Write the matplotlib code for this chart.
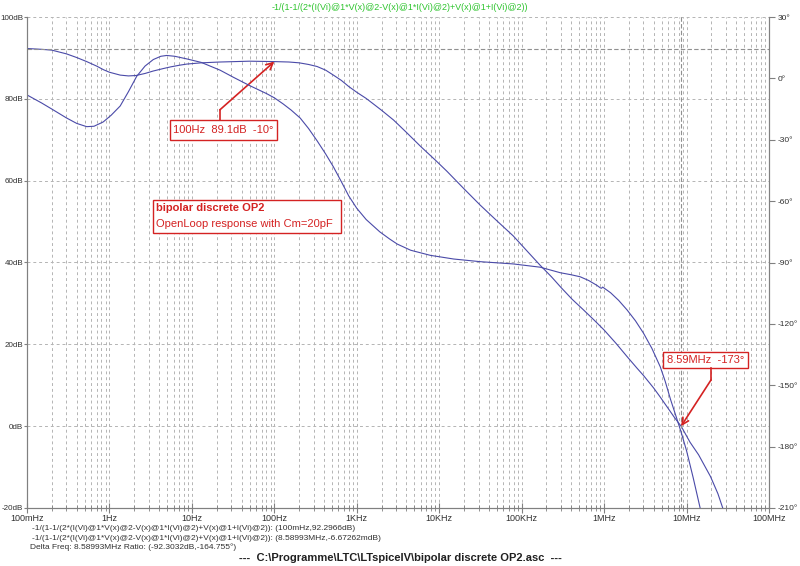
import numpy as np
import matplotlib
matplotlib.use('Agg')
from matplotlib import pyplot as plt
from matplotlib.patches import Rectangle
from matplotlib.ticker import FixedLocator, LogLocator, NullFormatter

plt.rcParams['font.family'] = ['Liberation Sans', 'DejaVu Sans']

# Betrag (dB) über Frequenz (Hz)
mag_freq = [0.1, 0.15, 0.2, 0.3, 0.4, 0.53, 0.7, 0.85, 1.0, 1.35, 1.7, 2.1, 2.7, 3.4, 4.5,
            5.5, 7, 8.7, 13, 22, 50, 100, 150, 200, 260, 330, 420, 520, 650, 800, 1000,
            1300, 1650, 2000, 2800, 4000, 6000, 9000, 12400, 20000, 31500, 50000, 79000,
            120000, 168000, 230000, 300000, 410000, 550000, 750000, 1e6, 1.4e6, 1.9e6,
            2.5e6, 3e6, 4e6, 4.8e6, 6e6, 7.2e6, 8.59e6, 1.1e7, 1.4e7, 1.95e7, 2.4e7, 2.8e7]
mag_db = [92.3, 92.1, 91.9, 91.0, 90.1, 89.1, 88.0, 87.1, 86.5, 85.8, 85.6, 85.7, 86.2, 86.8, 87.4,
          87.8, 88.2, 88.5, 88.8, 89.0, 89.2, 89.1, 89.0, 88.8, 88.4, 87.9, 87.0, 85.8, 84.5, 83.0, 81.6,
          80.1, 78.5, 77.2, 74.8, 71.8, 68.3, 65.0, 62.3, 58.0, 54.0, 50.2, 46.5,
          42.5, 39.3, 36.5, 33.9, 31.0, 28.6, 26.0, 23.5, 20.2, 17.0,
          14.2, 12.4, 9.3, 7.1, 4.3, 2.0, 0.0, -3.9, -7.0, -12.3, -16.5, -20.5]

# Phase (Grad) über Frequenz (Hz)
phase_freq = [0.1, 0.15, 0.2, 0.3, 0.4, 0.53, 0.65, 0.84, 1.05, 1.35, 1.7, 2.14, 2.7, 3.4, 4.2,
              4.95, 6.2, 8.7, 13, 22, 32, 50, 81, 100, 128, 160, 206, 260, 330, 420, 520, 650,
              800, 1000, 1300, 1900, 2500, 3100, 4500, 7800, 15000, 31500, 79000, 168000,
              294000, 400000, 514000, 650000, 820000, 900000, 930000, 960000, 1.2e6, 1.5e6,
              1.9e6, 2.4e6, 3e6, 3.8e6, 4.8e6, 5.5e6, 6.4e6, 7.5e6, 8.59e6, 1e7, 1.2e7, 1.5e7]
phase_deg = [-8.1, -12.0, -15.0, -19.3, -22.0, -23.6, -23.4, -21.3, -18.0, -13.5, -6.5, 1.0, 6.0, 9.2, 10.8,
             11.2, 10.8, 9.5, 7.8, 4.0, 0.5, -3.5, -7.5, -9.5, -12.5, -15.5, -19.4, -24.5, -30.5, -37.0, -43.2, -50.5,
             -57.5, -63.5, -69.0, -75.0, -78.5, -81.0, -84.0, -86.5, -88.3, -89.6, -90.7, -92.3,
             -95.0, -96.0, -97.0, -98.8, -101.2, -102.4, -102.6, -102.0, -104.8, -108.5,
             -113.2, -118.5, -124.5, -132.0, -141.0, -148.0, -157.0, -165.5, -172.9, -182.0, -195.0, -212.0]

freq_ticks = [0.1, 1, 10, 100, 1e3, 1e4, 1e5, 1e6, 1e7, 1e8]
freq_labels = ['100mHz', '1Hz', '10Hz', '100Hz', '1KHz', '10KHz', '100KHz', '1MHz', '10MHz', '100MHz']
db_ticks = [-20, 0, 20, 40, 60, 80, 100]
phase_ticks = [-210, -180, -150, -120, -90, -60, -30, 0, 30]

cursor1 = (0.1, 92.2966)
cursor2 = (8.58993e6, -0.00667262)

trace = '#4a4aa8'
red = '#d42222'
grid_col = '#b4b4b4'
frame = '#808080'

fig = plt.figure(figsize=(8, 5.66), dpi=100)
ax = fig.add_axes([27 / 800, 58 / 566, 742 / 800, 491 / 566])
ax2 = ax.twinx()

ax.set_xscale('log')
ax.set_xlim(0.1, 1e8)
ax.set_ylim(-20, 100)
ax2.set_ylim(-210, 30)

ax.plot(mag_freq, mag_db, color=trace, lw=0.8)
ax2.plot(phase_freq, phase_deg, color=trace, lw=0.8)

# Gitter
ax.xaxis.set_major_locator(FixedLocator(freq_ticks))
ax.xaxis.set_minor_locator(LogLocator(base=10, subs=np.arange(2, 10), numticks=20))
ax.xaxis.set_minor_formatter(NullFormatter())
ax.set_xticklabels(freq_labels)
ax.set_yticks(db_ticks)
ax.set_yticklabels([f'{v}dB' for v in db_ticks])
ax2.set_yticks(phase_ticks)
ax2.set_yticklabels([f'{v}°' for v in phase_ticks])

ax.grid(True, which='both', axis='x', color=grid_col, ls=(0, (3, 3)), lw=0.7)
ax.grid(True, which='major', axis='y', color=grid_col, ls=(0, (3, 3)), lw=0.7)

# Cursor
ax.axhline(cursor1[1], color='#909090', ls=(0, (4, 2)), lw=0.8)
ax.axvline(cursor2[0], color='#909090', ls=(0, (4, 2)), lw=0.8)

for a in (ax, ax2):
    a.spines['top'].set_visible(False)
    for s in ('left', 'right', 'bottom'):
        a.spines[s].set_color(frame)
        a.spines[s].set_linewidth(0.8)
ax.tick_params(axis='x', which='major', direction='inout', length=7, color=frame,
               labelsize=6.5, pad=1, labelcolor='#303030')
ax.tick_params(axis='x', which='minor', direction='inout', length=5, color=frame)
ax.tick_params(axis='y', direction='out', length=2.5, color=frame, labelsize=5.8, pad=0.3,
               labelcolor='#303030')
ax2.tick_params(axis='y', direction='out', length=4, color=frame, labelsize=6, pad=2,
                labelcolor='#303030')

# Titel
fig.text(0.5, 1 - 7 / 566, '-1/(1-1/(2*(I(Vi)@1*V(x)@2-V(x)@1*I(Vi)@2)+V(x)@1+I(Vi)@2))',
         ha='center', va='center', color='#2ec42e', fontsize=6.5)

# Beschriftungen
ax.add_patch(Rectangle((0.1927, 0.7495), 0.1442, 0.0407, transform=ax.transAxes,
                       fill=True, facecolor='white', edgecolor=red, lw=1.0, zorder=5))
ax.text(0.2648, 0.770, '100Hz  89.1dB  -10°', transform=ax.transAxes, ha='center',
        va='center', color=red, fontsize=8, zorder=6)
ax.plot([0.260, 0.260], [0.7902, 0.811], color=red, lw=1.2, transform=ax.transAxes, zorder=6)
ax.annotate('', xy=(100, 89.1), xycoords='data', xytext=(0.260, 0.811), textcoords='axes fraction',
            arrowprops=dict(arrowstyle='->', color=red, lw=1.2, shrinkA=0, shrinkB=0,
                            mutation_scale=12), zorder=6)

ax.add_patch(Rectangle((0.1698, 0.560), 0.2534, 0.0672, transform=ax.transAxes,
                       fill=True, facecolor='white', edgecolor=red, lw=1.0, zorder=5))
ax.text(0.174, 0.611, 'bipolar discrete OP2', transform=ax.transAxes, ha='left', va='center',
        color=red, fontsize=8, fontweight='bold', zorder=6)
ax.text(0.174, 0.578, 'OpenLoop response with Cm=20pF', transform=ax.transAxes, ha='left',
        va='center', color=red, fontsize=8, zorder=6)

ax.add_patch(Rectangle((0.8571, 0.2851), 0.1146, 0.0326, transform=ax.transAxes,
                       fill=True, facecolor='white', edgecolor=red, lw=1.0, zorder=5))
ax.text(0.9144, 0.3014, '8.59MHz  -173°', transform=ax.transAxes, ha='center', va='center',
        color=red, fontsize=8, zorder=6)
ax.plot([0.9218, 0.9218], [0.2851, 0.2607], color=red, lw=1.2, transform=ax.transAxes, zorder=6)
ax.annotate('', xy=cursor2, xycoords='data', xytext=(0.9218, 0.2607), textcoords='axes fraction',
            arrowprops=dict(arrowstyle='->', color=red, lw=1.2, shrinkA=0, shrinkB=0,
                            mutation_scale=12), zorder=6)

# Cursor-Texte unten
info = ['-1/(1-1/(2*(I(Vi)@1*V(x)@2-V(x)@1*I(Vi)@2)+V(x)@1+I(Vi)@2)): (100mHz,92.2966dB)',
        '-1/(1-1/(2*(I(Vi)@1*V(x)@2-V(x)@1*I(Vi)@2)+V(x)@1+I(Vi)@2)): (8.58993MHz,-6.67262mdB)']
fig.text(32 / 800, 1 - 529 / 566, info[0], ha='left', va='center', fontsize=6, color='#303030')
fig.text(32 / 800, 1 - 538 / 566, info[1], ha='left', va='center', fontsize=6, color='#303030')
fig.text(30 / 800, 1 - 547 / 566, 'Delta Freq: 8.58993MHz Ratio: (-92.3032dB,-164.755°)',
         ha='left', va='center', fontsize=6, color='#303030')
fig.text(0.5, 1 - 558 / 566, '---  C:\\Programme\\LTC\\LTspiceIV\\bipolar discrete OP2.asc  ---',
         ha='center', va='center', fontsize=8, fontweight='bold', color='#202020')

fig.savefig('out.png', dpi=100)
